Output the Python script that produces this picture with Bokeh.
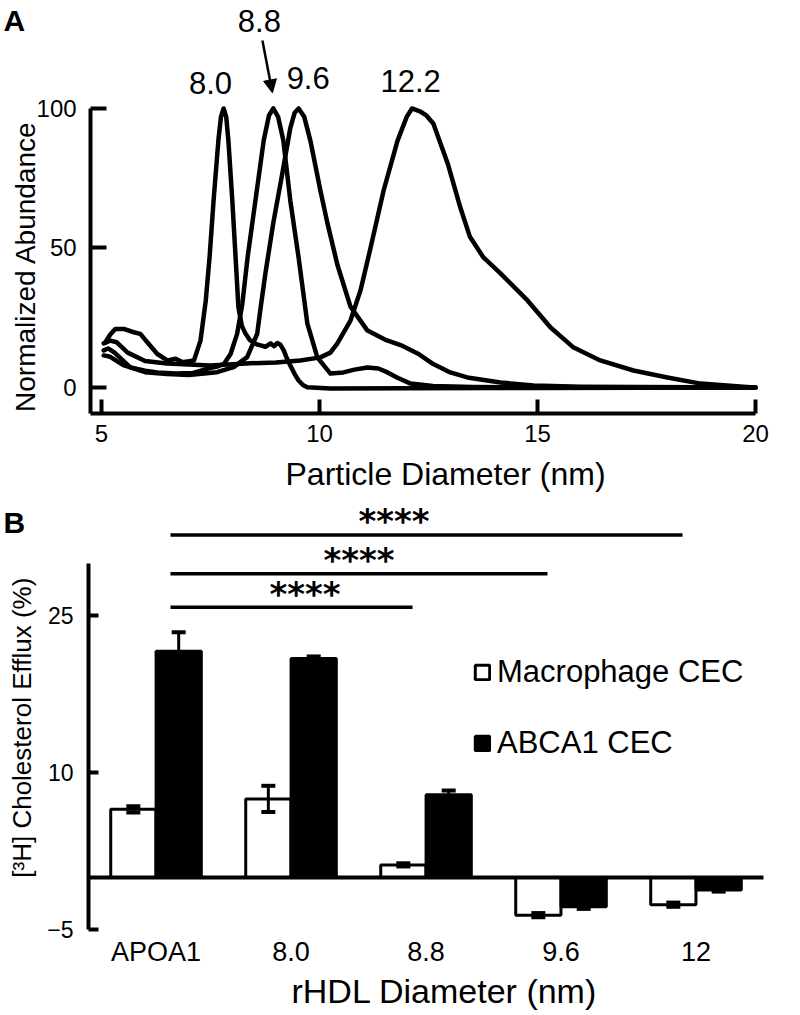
import math
from bokeh.plotting import figure
from bokeh.models import (Range1d, FixedTicker, Label, Arrow, NormalHead, LinearAxis,
                          Whisker, TeeHead, ColumnDataSource, Legend, LegendItem)
from bokeh.layouts import column
from bokeh.transform import dodge
from bokeh.embed import file_html
from bokeh.resources import INLINE
from bokeh.core.properties import value

FONT = "Liberation Sans"

# ---------------- Panel A data: size-distribution curves ----------------
c80_x = [5.09, 5.20, 5.32, 5.51, 5.74, 5.89, 6.05, 6.28, 6.51, 6.70, 6.85, 7.00, 7.12, 7.27,
         7.39, 7.48, 7.57, 7.68, 7.74, 7.80, 7.86, 7.91, 8.00, 8.07, 8.14, 8.22, 8.30, 8.40,
         8.49, 8.57, 8.65, 8.76, 8.88, 8.96, 9.03, 9.10, 9.18, 9.25, 9.33, 9.43, 9.52, 9.62,
         9.72, 10.25, 12.0, 15.0, 20.0]
c80_y = [16.2, 19.0, 21.0, 21.0, 19.8, 19.2, 16.2, 12.0, 9.7, 10.3, 9.1, 9.4, 9.7, 16.8,
         31.0, 47.0, 67.0, 88.5, 97.0, 100.0, 97.0, 88.5, 67.0, 48.0, 28.7, 22.0, 19.4, 17.0,
         16.2, 15.4, 15.1, 14.6, 15.8, 14.8, 15.9, 15.4, 13.3, 10.5, 7.9, 4.8, 2.5, 0.9,
         0.1, -0.4, -0.3, -0.2, 0.0]

c88_x = [5.05, 5.15, 5.30, 5.50, 5.66, 6.00, 6.28, 6.70, 7.10, 7.42, 7.65, 7.81, 7.96, 8.11,
         8.23, 8.35, 8.53, 8.72, 8.84, 8.94, 9.05, 9.17, 9.33, 9.52, 9.72, 9.95, 10.25, 10.55,
         10.80, 11.10, 11.35, 11.56, 11.80, 12.09, 12.60, 13.50, 15.0, 20.0]
c88_y = [13.3, 14.0, 12.5, 9.5, 7.2, 6.0, 5.4, 5.0, 5.2, 6.7, 7.5, 8.5, 12.0, 19.2,
         30.0, 46.6, 67.0, 88.5, 97.5, 100.0, 97.0, 88.5, 67.0, 46.6, 23.0, 10.8, 5.0, 5.4,
         6.4, 7.2, 6.8, 5.4, 3.4, 1.4, 0.5, 0.2, 0.0, 0.0]

c96_x = [5.05, 5.20, 5.50, 6.00, 6.50, 7.00, 7.65, 8.03, 8.34, 8.57, 8.65, 8.76, 8.94, 9.15,
         9.33, 9.43, 9.52, 9.65, 9.79, 10.02, 10.18, 10.41, 10.71, 11.10, 11.50, 11.86, 12.25,
         12.61, 13.00, 13.39, 14.15, 14.91, 16.0, 20.0]
c96_y = [11.5, 11.0, 8.0, 5.5, 4.8, 4.5, 5.5, 7.3, 10.9, 19.2, 28.7, 41.0, 59.0, 77.0,
         93.0, 98.5, 100.0, 97.0, 88.5, 70.6, 59.0, 44.0, 29.0, 20.4, 17.2, 15.2, 12.2,
         8.4, 5.4, 3.6, 1.8, 0.7, 0.3, 0.0]

c122_x = [5.05, 5.20, 5.35, 5.60, 6.00, 6.50, 7.50, 8.30, 9.00, 9.56, 10.02, 10.25, 10.41,
          10.71, 10.94, 11.17, 11.47, 11.79, 12.00, 12.12, 12.30, 12.45, 12.61, 12.94, 13.23,
          13.45, 13.76, 14.15, 14.77, 15.30, 15.83, 16.44, 17.20, 17.98, 18.74, 19.95]
c122_y = [15.8, 16.8, 16.2, 12.5, 9.5, 8.6, 7.9, 8.6, 9.0, 9.7, 10.8, 12.5, 15.8,
          24.0, 34.8, 50.0, 70.6, 88.5, 97.0, 100.0, 99.0, 97.5, 94.6, 80.3, 64.5,
          54.0, 46.6, 40.9, 31.2, 21.5, 14.3, 9.7, 6.1, 3.6, 1.4, 0.0]

peak_labels = ["8.0", "8.8", "9.6", "12.2"]

# ---------------- Panel B data: cholesterol efflux ----------------
cats = ["APOA1", "8.0", "8.8", "9.6", "12"]
mac = [6.5, 7.5, 1.2, -3.6, -2.6]
mac_err = [0.3, 1.25, 0.15, 0.2, 0.2]
abca1 = [21.6, 20.9, 7.9, -2.8, -1.2]
abca1_err = [1.8, 0.2, 0.4, 0.2, 0.15]
comp_start = ["APOA1", "APOA1", "APOA1"]
comp_end = ["12", "9.6", "8.8"]
comp_level = [32.7, 29.0, 25.8]
comp_text = ["****", "****", "****"]


def style_axis(ax, size):
    ax.axis_line_width = 4
    ax.axis_line_color = "black"
    ax.major_tick_line_width = 4
    ax.major_tick_line_color = "black"
    ax.minor_tick_line_color = None
    ax.major_tick_out = 0
    ax.major_label_text_font = FONT
    ax.major_label_text_font_size = size
    ax.major_label_text_color = "black"


# ================= Panel A =================
# the frame covers the whole canvas; axes are pinned at fixed data locations
pA = figure(width=800, height=500, x_range=Range1d(2.683, 21.032), y_range=Range1d(-40.5, 138.7),
            output_backend="svg", toolbar_location=None, x_axis_location=None, y_axis_location=None,
            min_border=0)
pA.outline_line_color = None
pA.grid.visible = False
pA.xgrid.visible = False
pA.ygrid.visible = False

for xs, ys in [(c80_x, c80_y), (c88_x, c88_y), (c96_x, c96_y), (c122_x, c122_y)]:
    pA.line(xs, ys, line_color="black", line_width=4.5, line_join="round", line_cap="round")

xA = LinearAxis(fixed_location=-9.3, bounds=(4.75, 20), ticker=FixedTicker(ticks=[5, 10, 15, 20]))
style_axis(xA, "24px")
xA.major_tick_in = 14
xA.major_label_standoff = 12
pA.add_layout(xA, "below")

yA = LinearAxis(fixed_location=4.75, bounds=(-9.3, 100), ticker=FixedTicker(ticks=[0, 50, 100]))
style_axis(yA, "24px")
yA.major_tick_in = 16
yA.major_label_standoff = 14
pA.add_layout(yA, "left")

pA.text(x=[12.89], y=[-31.0], text=["Particle Diameter (nm)"], text_align="center",
        text_baseline="middle", text_font=value(FONT), text_font_size="32px", text_color="black")
pA.text(x=[3.25], y=[43.4], text=["Normalized Abundance"], angle=math.pi / 2, text_align="center",
        text_baseline="middle", text_font=value(FONT), text_font_size="28px", text_color="black")

lab_pos = [(7.50, 109.3), (8.62, 131.5), (9.74, 111.0), (12.09, 110.0)]
for t, (lx, ly) in zip(peak_labels, lab_pos):
    pA.add_layout(Label(x=lx, y=ly, text=t, text_align="center", text_baseline="middle",
                        text_font=FONT, text_font_size="31px", text_color="black"))
pA.add_layout(Arrow(end=NormalHead(size=13, fill_color="black", line_color="black"),
                    x_start=8.69, y_start=124.4, x_end=8.92, y_end=105.6,
                    line_width=2.5, line_color="black"))
pA.add_layout(Label(x=2.75, y=137.3, text="A", text_align="left", text_baseline="top",
                    text_font=FONT, text_font_style="bold", text_font_size="30px", text_color="black"))

# ================= Panel B =================
pB = figure(width=800, height=515, x_range=Range1d(-1.152, 4.774), y_range=Range1d(-13.18, 35.99),
            output_backend="svg", toolbar_location=None, x_axis_location=None, y_axis_location=None,
            min_border=0)
pB.outline_line_color = None
pB.grid.visible = False
pB.xgrid.visible = False
pB.ygrid.visible = False

idx = list(range(len(cats)))
srcB = ColumnDataSource(dict(
    idx=idx, mac=mac, abca1=abca1,
    mac_lo=[v - e for v, e in zip(mac, mac_err)], mac_hi=[v + e for v, e in zip(mac, mac_err)],
    ab_lo=[v - e for v, e in zip(abca1, abca1_err)], ab_hi=[v + e for v, e in zip(abca1, abca1_err)],
))
OFF = 0.168
r_mac = pB.vbar(x=dodge("idx", -OFF), top="mac", bottom=0, width=0.335,
                fill_color="white", line_color="black", line_width=3, source=srcB)
r_ab = pB.vbar(x=dodge("idx", OFF), top="abca1", bottom=0, width=0.335,
               fill_color="black", line_color="black", line_width=3, source=srcB)

for off, lo, hi in [(-OFF, "mac_lo", "mac_hi"), (OFF, "ab_lo", "ab_hi")]:
    pB.add_layout(Whisker(source=srcB, base=dodge("idx", off), lower=lo, upper=hi,
                          line_width=3, line_color="black", level="annotation",
                          upper_head=TeeHead(size=14, line_width=4, line_color="black"),
                          lower_head=TeeHead(size=14, line_width=4, line_color="black")))

# zero line (axis line at y = 0, no ticks)
x0B = LinearAxis(fixed_location=0, bounds=(-0.5, len(cats) - 0.5), ticker=FixedTicker(ticks=[]))
style_axis(x0B, "0px")
pB.add_layout(x0B, "below")

# category labels below the plot
xB = LinearAxis(fixed_location=-5, ticker=FixedTicker(ticks=idx),
                major_label_overrides={i: c for i, c in zip(idx, cats)})
style_axis(xB, "27px")
xB.axis_line_color = None
xB.major_tick_line_color = None
xB.major_label_standoff = 7
pB.add_layout(xB, "below")

yB = LinearAxis(fixed_location=-0.5, bounds=(-5, 30), ticker=FixedTicker(ticks=[-5, 10, 25]))
style_axis(yB, "23px")
yB.major_tick_in = 10
yB.major_label_standoff = 15
pB.add_layout(yB, "left")

pB.text(x=[2.137], y=[-10.8], text=["rHDL Diameter (nm)"], text_align="center",
        text_baseline="middle", text_font=value(FONT), text_font_size="34px", text_color="black")
pB.text(x=[-0.99], y=[14.3], text=["[³H] Cholesterol Efflux (%)"], angle=math.pi / 2,
        text_align="center", text_baseline="middle", text_font=value(FONT),
        text_font_size="26px", text_color="black")

srcC = ColumnDataSource(dict(x0=[cats.index(s) + 0.107 for s in comp_start],
                             x1=[cats.index(e) - 0.1 for e in comp_end],
                             level=comp_level, text=comp_text))
pB.segment(x0="x0", x1="x1", y0="level", y1="level", line_color="black", line_width=3.5,
           source=srcC)
star_shift = [-0.24, 0.0, 0.1]
star_x = [(cats.index(s) + 0.107 + cats.index(e) - 0.1) / 2 + sh
          for s, e, sh in zip(comp_start, comp_end, star_shift)]
pB.text(x=star_x, y=[lv + 1.3 for lv in comp_level], text=comp_text, text_align="center",
        text_baseline="middle", text_font=value("DejaVu Sans"), text_font_style="bold",
        text_font_size="34px", text_color="black")

legend = Legend(items=[LegendItem(label="Macrophage CEC", renderers=[r_mac]),
                       LegendItem(label="ABCA1 CEC", renderers=[r_ab])],
                location=(473, 254), glyph_width=18, glyph_height=18,
                label_text_font=FONT, label_text_font_size="31px", label_text_color="black",
                label_standoff=6, spacing=35, padding=0, margin=0, border_line_color=None,
                background_fill_alpha=0)
pB.add_layout(legend)

pB.add_layout(Label(x=-1.13, y=35.42, text="B", text_align="left", text_baseline="top",
                    text_font=FONT, text_font_style="bold", text_font_size="30px", text_color="black"))

layout = column(pA, pB, spacing=0)
open("out.html", "w").write(file_html(layout, INLINE))
